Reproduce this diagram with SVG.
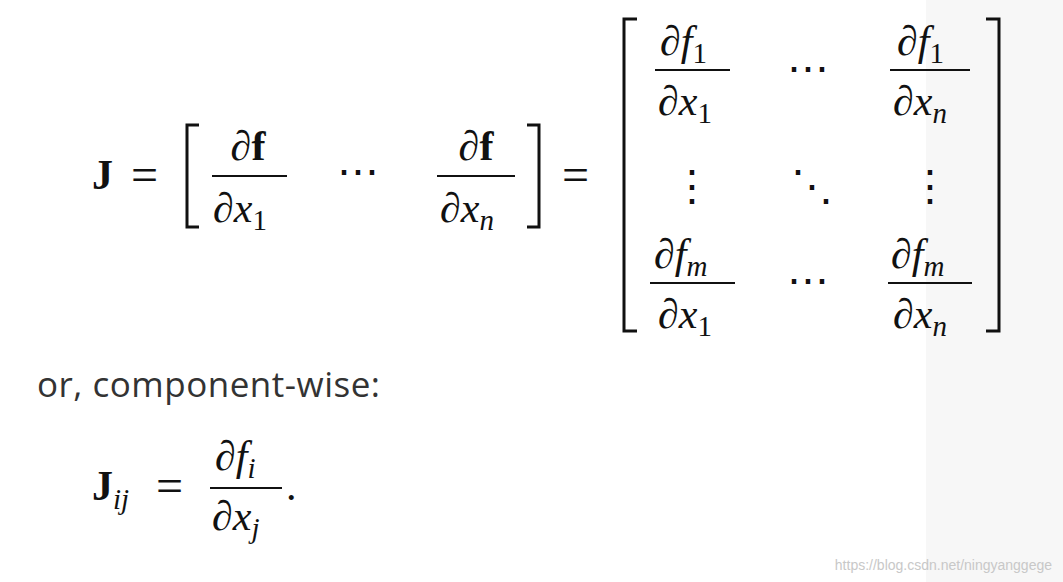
<svg xmlns="http://www.w3.org/2000/svg" width="1063" height="582" viewBox="0 0 1063 582">
<style>
.m{font-family:"Liberation Serif","DejaVu Serif",serif;font-size:42px;fill:#111}
.i{font-style:italic}
.b{font-weight:bold}
.s{font-size:29px;font-style:normal}
.si{font-size:29px;font-style:italic}
.eq{font-size:48px}
.ln{stroke:#111;stroke-width:2.2;fill:none}
.br{stroke:#111;stroke-width:3;fill:none}
</style>
<rect width="1063" height="582" fill="#fff"/>
<rect x="926" y="0" width="137" height="582" fill="#f7f7f7"/>
<g id="eq1">
<text class="m b" x="92" y="189">J</text>
<text class="m eq" x="131" y="191">=</text>
<path class="br" d="M199,125 H187 V227 H199"/>
<text class="m" x="248" y="160" text-anchor="middle">∂<tspan class="b">f</tspan></text>
<line class="ln" x1="212" y1="176" x2="287" y2="176"/>
<text class="m" x="213" y="222">∂<tspan class="i">x</tspan><tspan class="s" dy="8">1</tspan></text>
<text class="m" x="337" y="185">⋯</text>
<text class="m" x="476" y="160" text-anchor="middle">∂<tspan class="b">f</tspan></text>
<line class="ln" x1="437" y1="176" x2="515" y2="176"/>
<text class="m" x="440" y="222">∂<tspan class="i">x</tspan><tspan class="si" dy="8">n</tspan></text>
<path class="br" d="M527,125 H539 V227 H527"/>
<text class="m eq" x="562" y="191">=</text>
<path class="br" d="M637,19 H624 V331 H637"/>
<path class="br" d="M986,19 H999 V331 H986"/>
<text class="m" x="660" y="55">∂<tspan class="i">f</tspan><tspan class="s" dy="8">1</tspan></text>
<line class="ln" x1="655" y1="70" x2="730" y2="70"/>
<text class="m" x="658" y="115">∂<tspan class="i">x</tspan><tspan class="s" dy="8">1</tspan></text>
<text class="m" x="787" y="82">⋯</text>
<text class="m" x="897" y="55">∂<tspan class="i">f</tspan><tspan class="s" dy="8">1</tspan></text>
<line class="ln" x1="890" y1="70" x2="970" y2="70"/>
<text class="m" x="893" y="115">∂<tspan class="i">x</tspan><tspan class="si" dy="8">n</tspan></text>
<text class="m" x="692" y="200" text-anchor="middle">⋮</text>
<text class="m" x="812" y="200" text-anchor="middle">⋱</text>
<text class="m" x="930" y="200" text-anchor="middle">⋮</text>
<text class="m" x="654" y="268">∂<tspan class="i">f</tspan><tspan class="si" dy="8">m</tspan></text>
<line class="ln" x1="650" y1="283" x2="735" y2="283"/>
<text class="m" x="658" y="328">∂<tspan class="i">x</tspan><tspan class="s" dy="8">1</tspan></text>
<text class="m" x="787" y="294">⋯</text>
<text class="m" x="891" y="268">∂<tspan class="i">f</tspan><tspan class="si" dy="8">m</tspan></text>
<line class="ln" x1="888" y1="283" x2="972" y2="283"/>
<text class="m" x="893" y="328">∂<tspan class="i">x</tspan><tspan class="si" dy="8">n</tspan></text>
</g>
<g id="text1">
<text x="37" y="397" textLength="343" font-family="'Open Sans','Noto Sans',sans-serif" font-size="35" fill="#333">or, component-wise:</text>
</g>
<g id="eq2">
<text class="m b" x="92" y="500">J<tspan class="si" font-weight="normal" dy="9">ij</tspan></text>
<text class="m eq" x="156" y="502">=</text>
<text class="m" x="215" y="470">∂<tspan class="i">f</tspan><tspan class="si" dy="8">i</tspan></text>
<line class="ln" x1="210" y1="488" x2="282" y2="488"/>
<text class="m" x="212" y="530">∂<tspan class="i">x</tspan><tspan class="si" dy="8">j</tspan></text>
<text class="m" x="286" y="500">.</text>
</g>
<text x="1052" y="570" text-anchor="end" font-family="'Liberation Sans',sans-serif" font-size="14" fill="#c8c8c8">https://blog.csdn.net/ningyanggege</text>
</svg>
